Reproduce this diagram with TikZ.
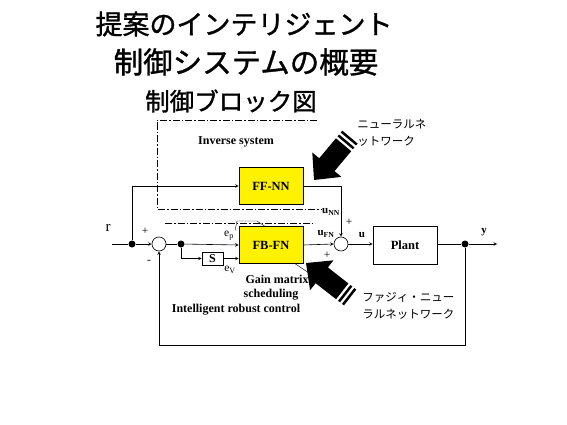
\documentclass[tikz,border=0pt]{standalone}
\usepackage{fontspec}
\setmainfont{Liberation Serif}
\newfontfamily\jp{Noto Sans CJK JP}
\newfontfamily\jptitle[FakeBold=1.2]{Noto Sans CJK JP}
\usetikzlibrary{arrows, positioning, calc}

\tikzset{bigarrow/.pic={
  \fill (0,0) -- (-20,19) -- (-20,10) -- (-46,10) -- (-46,-10) -- (-20,-10) -- (-20,-19) -- cycle;
  \fill (-48.5,10) rectangle (-51,-10);
  \fill (-53.5,10) rectangle (-56,-10);
}}

\begin{document}
\begin{tikzpicture}[x=1pt, y=-1pt, line width=0.6pt]
\tikzstyle{block} = [rectangle, draw=black, fill=yellow, minimum width=64pt, minimum height=37pt, font=\fontsize{12.5}{14}\selectfont\bfseries]
\tikzstyle{plantbox} = [rectangle, draw=black, fill=white, minimum width=64pt, minimum height=38pt, font=\fontsize{12.5}{14}\selectfont\bfseries]
\tikzstyle{sbox} = [rectangle, draw=black, minimum width=21pt, minimum height=13pt, inner sep=0pt, font=\fontsize{12}{13}\selectfont\bfseries]
\tikzstyle{junction} = [circle, draw=black, minimum size=14pt, inner sep=0pt]
\tikzstyle{dot} = [circle, fill=black, minimum size=7pt, inner sep=0pt]
\tikzstyle{arrow} = [->,>=stealth]
\tikzstyle{note} = [inner sep=1pt, font=\fontsize{12}{14}\selectfont\bfseries]
\tikzstyle{sig} = [inner sep=1pt, font=\fontsize{11.5}{13}\selectfont]
\tikzstyle{sigb} = [inner sep=1pt, font=\fontsize{11}{13}\selectfont\bfseries]
\tikzstyle{jplabel} = [align=left, anchor=west, inner sep=0pt, font=\jp\fontsize{11.5}{17}\selectfont]
\tikzstyle{group} = [line width=0.5pt, dash pattern=on 7pt off 2pt on 1.5pt off 2pt]
\tikzstyle{leader} = [line width=0.4pt]

\useasboundingbox (0,0) rectangle (567,425);

% Title
\node[font=\jptitle\fontsize{27}{30}\selectfont] (title1) at (244,24) {提案のインテリジェント};
\node[font=\jptitle\fontsize{29.5}{32}\selectfont] (title2) at (246,62) {制御システムの概要};
\node[font=\jptitle\fontsize{24.5}{27}\selectfont] (title3) at (231,101) {制御ブロック図};

% Groups
\draw[group] (317,120) -- (157,120) -- (157,209) -- (322,209);
\draw[group] (165,223) -- (315,223);
\node[note] (inverse) at (236,142) {Inverse system};

% Blocks
\node[block] (ffnn) at (271,186) {FF-NN};
\node[block] (fbfn) at (271,245) {FB-FN};
\node[sbox] (s) at (212.5,258.5) {S};
\node[plantbox] (plant) at (405,245) {Plant};

% Junctions
\coordinate (in) at (112,244);
\node[dot] (dot1) at (132,244) {};
\node[junction] (sum1) at (159,244) {};
\node[dot] (dot2) at (181,244) {};
\node[junction] (sum2) at (341,244) {};
\node[dot] (dot3) at (465,244) {};
\coordinate (out) at (497,244);
\coordinate (fb) at (465,345);

% Signals
\node[font=\fontsize{15}{16}\selectfont] (r) at (108,228) {r};
\node[sig] at (145,231) {+};
\node[sig] at (149,262) {-};
\node[sig] (ep) at (229,236) {e\textsubscript{p}};
\node[sig] (ev) at (230,270) {e\textsubscript{V}};
\node[sigb] (unn) at (331,212) {u\textsubscript{NN}};
\node[sigb] (ufn) at (326,234) {u\textsubscript{FN}};
\node[sig] at (349,222) {+};
\node[sig] at (327,255) {+};
\node[sigb] (u) at (362,235) {u};
\node[sigb] (y) at (484,232) {y};

% Notes
\node[note] (gain) at (277,279) {Gain matrix};
\node[note] (sched) at (271,295) {scheduling};
\node[note] (irc) at (236,310) {Intelligent robust control};
\node[jplabel] (nn) at (357,133) {ニューラルネ\\ットワーク};
\node[jplabel] (fnn) at (362,306) {ファジィ・ニュー\\ラルネットワーク};

% Connections
\draw (in) -- (dot1);
\draw[arrow] (dot1) -- (sum1);
\draw[arrow] (dot1) |- (ffnn.west);
\draw (sum1) -- (dot2);
\draw[arrow] (dot2) -- (fbfn.west);
\draw[arrow] (dot2) |- (s.west);
\draw[arrow] (s.east) -- (s -| fbfn.west);
\draw[arrow] (ffnn.east) -| (sum2.north);
\draw[arrow] (fbfn.east) -- (sum2.west);
\draw[arrow] (sum2.east) -- (plant.west |- sum2.east);
\draw (plant.east |- dot3) -- (dot3);
\draw[arrow] (dot3) -- (out);
\draw[arrow] (dot3) -- (fb) -| (sum1.south);

% Leaders
\draw[leader] (ep.north east) -- (237,221) -- (257,221) -- ($(fbfn.north west)+(26,0)$);
\draw[leader] ($(fbfn.south east)+(-8,0)$) -- (gain.north east);

% Big arrows
\pic[rotate=230] at (314,180) {bigarrow};
\pic[rotate=142] at (306,263) {bigarrow};
\end{tikzpicture}
\end{document}
